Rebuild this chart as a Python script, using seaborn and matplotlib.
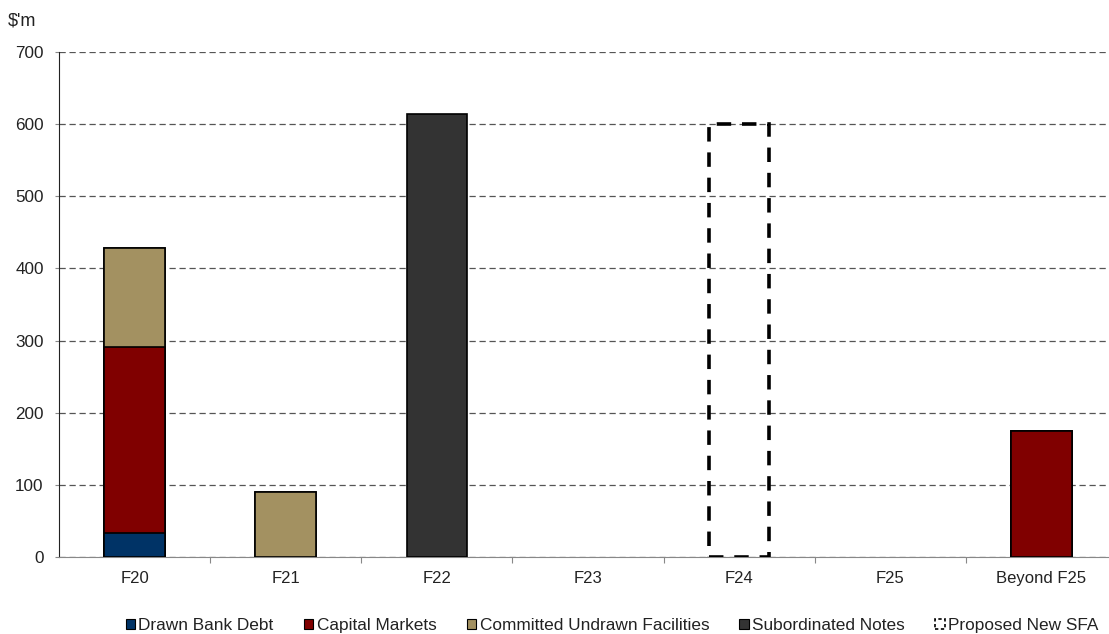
import matplotlib
matplotlib.use("Agg")
import matplotlib.pyplot as plt
from matplotlib.patches import Patch
import numpy as np
import pandas as pd
import seaborn as sns

categories = ["F20", "F21", "F22", "F23", "F24", "F25", "Beyond F25"]
drawn_bank_debt = [33, 0, 0, 0, 0, 0, 0]
capital_markets = [258, 0, 0, 0, 0, 0, 175]
committed_undrawn = [137, 90, 0, 0, 0, 0, 0]
subordinated_notes = [0, 0, 614, 0, 0, 0, 0]
proposed_new_sfa = [0, 0, 0, 0, 600, 0, 0]
yticks = [0, 100, 200, 300, 400, 500, 600, 700]

series_names = ["Drawn Bank Debt", "Capital Markets", "Committed Undrawn Facilities", "Subordinated Notes"]
series_values = [drawn_bank_debt, capital_markets, committed_undrawn, subordinated_notes]
colors = ["#003366", "#800000", "#A39161", "#333333"]

sns.set_style("white")
plt.rcParams["font.family"] = ["Liberation Sans", "DejaVu Sans"]

fig = plt.figure(figsize=(11.09, 6.34), dpi=100)
ax = fig.add_axes([59 / 1109, 77 / 634, 1058 / 1109, 505 / 634])

cum = np.cumsum(np.array(series_values, dtype=float), axis=0)
# draw from the top layer down so lower segments overlay
for i in range(len(series_names) - 1, -1, -1):
    df = pd.DataFrame({"cat": categories, "val": cum[i]})
    df = df[df["val"] > 0]
    sns.barplot(data=df, x="cat", y="val", order=categories, color=colors[i],
                saturation=1, width=0.4, edgecolor="black", linewidth=1.2,
                ax=ax, zorder=3, errorbar=None)

dfp = pd.DataFrame({"cat": categories, "val": proposed_new_sfa})
dfp = dfp[dfp["val"] > 0]
sns.barplot(data=dfp, x="cat", y="val", order=categories, fill=False,
            color="black", width=0.4, linewidth=2.6, linestyle=(0, (4, 3)),
            ax=ax, zorder=3, errorbar=None)

ax.set_xlim(-0.5, len(categories) - 0.5)
ax.set_ylim(0, 700)
ax.set_yticks(yticks)
ax.set_yticklabels([str(v) for v in yticks], fontsize=12.3, color="#222222")
ax.set_xlabel("")
ax.set_ylabel("")
ax.yaxis.grid(True, linestyle=(0, (5, 3)), color="#555555", linewidth=0.9)
ax.set_axisbelow(True)
for s in ["top", "right"]:
    ax.spines[s].set_visible(False)
ax.spines["left"].set_color("#222222")
ax.spines["bottom"].set_color("#888888")
ax.tick_params(axis="y", left=True, length=3, width=0.8, color="#888888", pad=8)
ax.tick_params(axis="x", which="major", length=0, pad=10, labelsize=12, labelcolor="#222222")
ax.set_xticks(np.arange(0.5, len(categories) - 0.5, 1), minor=True)
ax.tick_params(axis="x", which="minor", bottom=True, length=4, width=0.8, color="#888888")

fig.text(8 / 1109, 1 - 21 / 634, "$'m", fontsize=13, color="#222222", va="center", ha="left")

handles = [Patch(facecolor=c, edgecolor="black", linewidth=0.8) for c in colors]
handles.append(Patch(facecolor="none", edgecolor="black", linewidth=1.2, linestyle=(0, (2, 1.5))))
labels = series_names + ["Proposed New SFA"]
fig.legend(handles, labels, loc="center", bbox_to_anchor=(612 / 1109, 8.5 / 634), ncol=5,
           frameon=False, fontsize=12.4, handlelength=0.55, handleheight=0.55,
           handletextpad=0.2, columnspacing=1.75, borderaxespad=0, labelcolor="#222222")

fig.savefig("out.png", dpi=100)
